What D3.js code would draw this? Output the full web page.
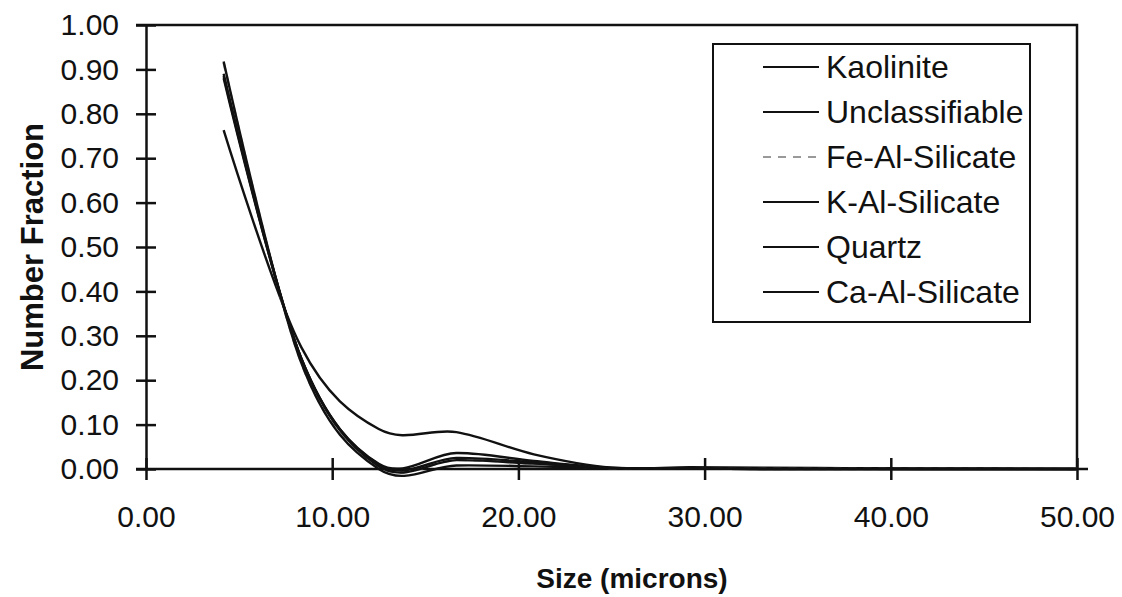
<!DOCTYPE html>
<html>
<head>
<meta charset="utf-8">
<script src="https://cdn.jsdelivr.net/npm/d3@7"></script>
<style>
  body { margin: 0; background: #fff; }
  svg { display: block; font-family: "Liberation Sans", Arial, sans-serif; }
</style>
</head>
<body>
<svg id="chart" width="1122" height="597"></svg>
<script>
// size bins (microns)
const sizes = [4.17, 8.33, 12.5, 16.67, 20.83, 25.0, 29.17, 33.33, 37.5, 41.67, 45.83, 50.0];

const kaolinite      = [0.885, 0.250, 0.012, 0.036, 0.018, 0.003, 0.002, 0.001, 0.001, 0, 0, 0];
const unclassifiable = [0.763, 0.275, 0.090, 0.083, 0.033, 0.003, 0.004, 0.003, 0.002, 0.001, 0.001, 0];
const feAlSilicate   = [0.915, 0.240, 0.005, 0.020, 0.012, 0.002, 0.001, 0, 0, 0, 0, 0];
const kAlSilicate    = [0.880, 0.250, 0.010, 0.025, 0.015, 0.002, 0.001, 0, 0, 0, 0, 0];
const quartz         = [0.918, 0.240, 0.000, 0.008, 0.006, 0.002, 0.001, 0, 0, 0, 0, 0];
const caAlSilicate   = [0.890, 0.250, 0.006, 0.020, 0.012, 0.002, 0.001, 0, 0, 0, 0, 0];

const seriesNames = ["Kaolinite", "Unclassifiable", "Fe-Al-Silicate", "K-Al-Silicate", "Quartz", "Ca-Al-Silicate"];
const seriesValues = [kaolinite, unclassifiable, feAlSilicate, kAlSilicate, quartz, caAlSilicate];
const seriesColors = ["#111", "#111", "#999", "#111", "#111", "#111"];
const seriesDash = [null, null, "8,7", null, null, null];

const xTicks = [0, 10, 20, 30, 40, 50];
const yTicks = [0, 0.1, 0.2, 0.3, 0.4, 0.5, 0.6, 0.7, 0.8, 0.9, 1.0];

let svg = d3.select("#chart");

let x = d3.scaleLinear().domain([0, 50]).range([146, 1077]);
let y = d3.scaleLinear().domain([0, 1]).range([469, 25]);

// plot frame (top and right)
svg.append("path")
    .attr("d", "M" + (x(0) - 10) + "," + y(1) + "H" + x(50) + "V" + y(0))
    .attr("fill", "none")
    .attr("stroke", "#111")
    .attr("stroke-width", 2.5);

// y axis
let yAxis = d3.axisLeft(y)
    .tickValues(yTicks)
    .tickFormat(d3.format(".2f"))
    .tickSizeInner(0)
    .tickSizeOuter(0)
    .tickPadding(27);

let gy = svg.append("g")
    .attr("transform", "translate(" + x(0) + ",0)")
    .call(yAxis);
gy.select(".domain").attr("stroke", "#111").attr("stroke-width", 2.5);
gy.selectAll(".tick line")
    .attr("x1", -10).attr("x2", 10)
    .attr("stroke", "#111").attr("stroke-width", 2.5);
gy.selectAll(".tick text")
    .attr("font-size", 30)
    .attr("font-family", "'Liberation Sans', Arial, sans-serif")
    .attr("fill", "#111");

// x axis
let xAxis = d3.axisBottom(x)
    .tickValues(xTicks)
    .tickFormat(d3.format(".2f"))
    .tickSizeInner(0)
    .tickSizeOuter(0)
    .tickPadding(37);

let gx = svg.append("g")
    .attr("transform", "translate(0," + y(0) + ")")
    .call(xAxis);
gx.select(".domain").remove();
gx.append("line")
    .attr("x1", x(0) - 10).attr("x2", x(50) + 11)
    .attr("stroke", "#111").attr("stroke-width", 2.5);
gx.selectAll(".tick line")
    .attr("y1", -11).attr("y2", 11)
    .attr("stroke", "#111").attr("stroke-width", 2.5);
gx.selectAll(".tick text")
    .attr("font-size", 30)
    .attr("font-family", "'Liberation Sans', Arial, sans-serif")
    .attr("fill", "#111");

// axis titles
svg.append("text")
    .attr("x", 632)
    .attr("y", 588)
    .attr("text-anchor", "middle")
    .attr("font-size", 28)
    .attr("font-weight", "bold")
    .attr("fill", "#111")
    .text("Size (microns)");

svg.append("text")
    .attr("transform", "translate(43,247) rotate(-90)")
    .attr("text-anchor", "middle")
    .attr("font-size", 31)
    .attr("font-weight", "bold")
    .attr("fill", "#111")
    .text("Number Fraction");

// series lines
let line = d3.line()
    .x(function (d) { return x(d[0]); })
    .y(function (d) { return y(d[1]); })
    .curve(d3.curveCardinal.tension(0));

seriesValues.forEach(function (vals, i) {
    let pts = sizes.map(function (s, j) { return [s, vals[j]]; });
    svg.append("path")
        .datum(pts)
        .attr("d", line)
        .attr("fill", "none")
        .attr("stroke", seriesColors[i])
        .attr("stroke-width", 2.4)
        .attr("stroke-dasharray", seriesDash[i]);
});

// legend
let legend = svg.append("g");
legend.append("rect")
    .attr("x", 713).attr("y", 44)
    .attr("width", 317).attr("height", 278)
    .attr("fill", "#fff")
    .attr("stroke", "#111")
    .attr("stroke-width", 2);

seriesNames.forEach(function (name, i) {
    let ly = 67 + i * 45;
    legend.append("line")
        .attr("x1", 763).attr("x2", 819)
        .attr("y1", ly).attr("y2", ly)
        .attr("stroke", seriesColors[i])
        .attr("stroke-width", 2.2)
        .attr("stroke-dasharray", seriesDash[i]);
    legend.append("text")
        .attr("x", 826)
        .attr("y", ly)
        .attr("dy", "0.35em")
        .attr("font-size", 32)
        .attr("fill", "#111")
        .text(name);
});
</script>
</body>
</html>
